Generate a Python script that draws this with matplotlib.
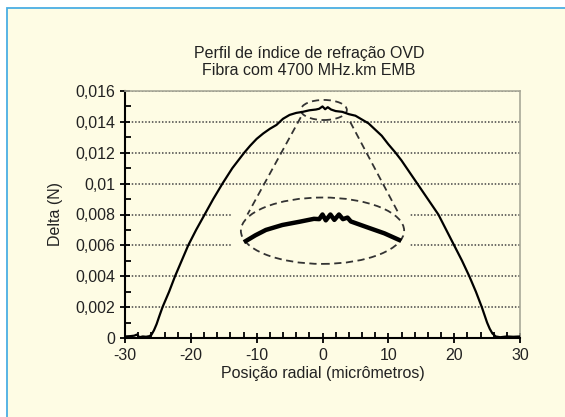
import numpy as np
import matplotlib.pyplot as plt
from matplotlib.patches import Ellipse, Rectangle
from matplotlib.ticker import MultipleLocator, FuncFormatter

plt.rcParams['font.family'] = ['Liberation Sans', 'DejaVu Sans']
plt.rcParams['axes.unicode_minus'] = False

# perfil medido (posição radial em µm, delta)
pos = [-30, -29.2, -28.6, -28.2, -27.8, -27.3, -26.8, -26.3, -26.0, -25.6, -25.2, -24.8,
       -24.3, -23.8, -23.3, -22.85, -22.4, -21.9, -21.4, -20.9, -20.4, -19.8, -19.2,
       -18.55, -17.9, -17.25, -16.6, -15.9, -15.2, -14.45, -13.7, -12.8, -11.9, -11.0,
       -10.0, -9.0, -8.0, -7.0, -6.0, -5.0, -4.0, -3.0, -2.0, -1.0, -0.5, 0.0, 0.4,
       0.8, 1.3, 2.0, 3.0, 4.0, 5.0, 6.0, 7.0, 8.0, 9.0, 10.0, 11.1, 12.0, 12.8, 13.6,
       14.4, 15.2, 16.0, 16.8, 17.6, 18.2, 18.8, 19.4, 20.0, 20.6, 21.2, 21.75, 22.3,
       22.8, 23.3, 23.75, 24.2, 24.6, 25.0, 25.4, 25.8, 26.3, 27.0, 28.0, 29.0, 30.0]
delta = [0.0001, 0.00012, 0.00015, 0.00022, 0.00005, 0.0001, 0.00008, 0.00012, 0.0002,
         0.0005, 0.0009, 0.0014, 0.002, 0.0025, 0.003, 0.0035, 0.004, 0.0045, 0.005,
         0.0055, 0.006, 0.0065, 0.007, 0.0075, 0.008, 0.0085, 0.009, 0.0095, 0.010,
         0.0105, 0.011, 0.0115, 0.012, 0.01245, 0.0129, 0.01325, 0.01355, 0.0138,
         0.0142, 0.01445, 0.01458, 0.01465, 0.01475, 0.0148, 0.01485, 0.0150, 0.01482,
         0.01495, 0.0148, 0.0147, 0.01465, 0.0145, 0.0144, 0.01415, 0.0139, 0.0135,
         0.0131, 0.01255, 0.012, 0.0115, 0.011, 0.0105, 0.010, 0.0095, 0.009, 0.0085,
         0.008, 0.0075, 0.007, 0.0065, 0.006, 0.0055, 0.005, 0.0045, 0.004, 0.0035,
         0.003, 0.0025, 0.002, 0.0015, 0.001, 0.0006, 0.0003, 0.0001, 0.00005, 0.0001,
         0.00008, 0.0001]

# detalhe ampliado do topo
pos_zoom = [-11.65, -10.2, -8.6, -6.1, -3.5, -1.3, -0.5, 0.0, 0.5, 1.2, 1.8, 2.5,
            3.1, 3.8, 4.3, 6.8, 9.4, 11.65]
delta_zoom = [0.00628, 0.00665, 0.0070, 0.00732, 0.00753, 0.00772, 0.0077, 0.0080,
              0.00762, 0.0080, 0.00765, 0.0080, 0.0077, 0.0078, 0.00755, 0.00717,
              0.00678, 0.00635]

# elipses (centro x, centro y, largura, altura) e linhas de ligação
small_ell = [0.2, 0.01477, 7.0, 0.0013]
big_ell = [0.0, 0.00695, 24.8, 0.0043]
cone_left = [[-3.3, -11.4], [0.0143, 0.0080]]
cone_right = [[4.2, 11.65], [0.0140, 0.0080]]

bg = '#fefce4'
txt = '#222222'
fig = plt.figure(figsize=(5.65, 4.17), dpi=100, facecolor='white')
back = fig.add_axes([0, 0, 1, 1], zorder=0)
back.set_xlim(0, 565)
back.set_ylim(417, 0)
back.axis('off')
back.add_patch(Rectangle((7, 8), 600, 450, facecolor=bg, edgecolor='#4aaee3',
                         linewidth=1.3))

ax = fig.add_axes([125 / 565, 1 - 338 / 417, 395 / 565, 247 / 417], zorder=2)
ax.set_facecolor(bg)
ax.set_xlim(-30, 30)
ax.set_ylim(0, 0.016)

ax.set_axisbelow(True)
ax.grid(axis='y', color='#444444', linestyle=(0, (1, 1.2)), linewidth=1.1)
ax.add_patch(Rectangle((-13.7, 0.0045), 26.8, 0.005, facecolor=bg,
                       edgecolor='none', zorder=1))

ax.plot(pos, delta, color='black', linewidth=1.6, zorder=3)
ax.plot(pos_zoom, delta_zoom, color='black', linewidth=3.2, zorder=3)

for e in (small_ell, big_ell):
    ax.add_patch(Ellipse((e[0], e[1]), e[2], e[3], fill=False, edgecolor='#333333',
                         linestyle=(0, (4, 2.5)), linewidth=1.3, zorder=2))
for c in (cone_left, cone_right):
    ax.plot(c[0], c[1], color='#333333', linestyle=(0, (4, 2.5)), linewidth=1.3, zorder=2)

ax.xaxis.set_major_locator(MultipleLocator(10))
ax.xaxis.set_minor_locator(MultipleLocator(2))
ax.yaxis.set_major_locator(MultipleLocator(0.002))
ax.yaxis.set_minor_locator(MultipleLocator(0.001))
ax.yaxis.set_major_formatter(FuncFormatter(lambda v, p: ('%g' % round(v, 4)).replace('.', ',')))
ax.tick_params(which='major', direction='inout', length=7, width=1.3, labelsize=11.5,
               colors='black', labelcolor=txt)
ax.tick_params(axis='x', which='major', pad=4)
ax.tick_params(which='minor', direction='in', length=4, width=1.3)

for s in ('left', 'bottom'):
    ax.spines[s].set_color('black')
    ax.spines[s].set_linewidth(1.5)
for s in ('top', 'right'):
    ax.spines[s].set_color('#a8a898')
    ax.spines[s].set_linewidth(1.2)

ax.set_xlabel('Posição radial (micrômetros)', fontsize=11.5, labelpad=2, color=txt)
ax.set_ylabel('Delta (N)', fontsize=11.5, labelpad=9, color=txt)
fig.text(309 / 565, 1 - 62 / 417, 'Perfil de índice de refração OVD\nFibra com 4700 MHz.km EMB',
         ha='center', va='center', fontsize=11.5, linespacing=1.15, color=txt)

fig.savefig('out.png', dpi=100, facecolor='white')
